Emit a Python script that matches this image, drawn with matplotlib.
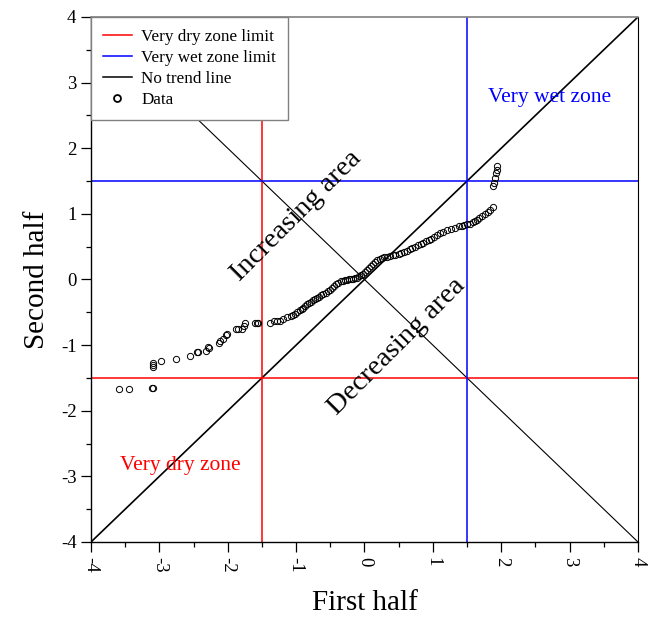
import numpy as np
import matplotlib
matplotlib.use("Agg")
import matplotlib.pyplot as plt
from matplotlib.lines import Line2D

plt.rcParams['font.family'] = ['Liberation Serif', 'DejaVu Serif']

# first half vs second half values (sorted)
first_half = [-3.59, -3.44, -3.11, -3.09, -3.09, -3.09, -3.09, -2.98, -2.76, -2.55,
              -2.45, -2.44, -2.32, -2.29, -2.27, -2.13, -2.11, -2.07, -2.02, -2.01,
              -1.88, -1.85, -1.79, -1.76, -1.75, -1.60, -1.57, -1.56, -1.38, -1.32,
              -1.28, -1.24, -1.19, -1.13, -1.08, -1.05, -1.02, -0.98, -0.95, -0.92,
              -0.90, -0.87, -0.84, -0.81, -0.78, -0.75, -0.72, -0.69, -0.66, -0.63,
              -0.60, -0.57, -0.54, -0.50, -0.47, -0.44, -0.41, -0.38, -0.35, -0.32,
              -0.29, -0.26, -0.23, -0.20, -0.17, -0.14, -0.11, -0.08, -0.05, -0.02,
              0.01, 0.04, 0.07, 0.10, 0.13, 0.16, 0.19, 0.22, 0.25, 0.29,
              0.33, 0.37, 0.41, 0.45, 0.50, 0.54, 0.58, 0.62, 0.66, 0.70,
              0.74, 0.78, 0.82, 0.86, 0.90, 0.94, 0.98, 1.02, 1.06, 1.10,
              1.15, 1.20, 1.26, 1.32, 1.38, 1.43, 1.46, 1.50, 1.54, 1.58,
              1.62, 1.65, 1.68, 1.72, 1.76, 1.80, 1.84, 1.88, 1.88, 1.90,
              1.91, 1.92, 1.94, 1.94]
second_half = [-1.67, -1.67, -1.65, -1.65, -1.33, -1.30, -1.27, -1.24, -1.21, -1.17,
               -1.10, -1.10, -1.09, -1.03, -1.04, -0.97, -0.94, -0.91, -0.84, -0.83,
               -0.75, -0.75, -0.75, -0.71, -0.66, -0.66, -0.66, -0.66, -0.66, -0.63,
               -0.63, -0.63, -0.60, -0.57, -0.55, -0.54, -0.52, -0.49, -0.47, -0.45,
               -0.43, -0.41, -0.38, -0.36, -0.34, -0.32, -0.30, -0.28, -0.26, -0.24,
               -0.22, -0.20, -0.18, -0.16, -0.13, -0.10, -0.07, -0.05, -0.03, -0.02,
               -0.01, -0.01, 0.00, 0.00, 0.01, 0.02, 0.03, 0.05, 0.07, 0.09,
               0.11, 0.14, 0.17, 0.20, 0.23, 0.26, 0.29, 0.31, 0.33, 0.34,
               0.35, 0.36, 0.37, 0.38, 0.39, 0.40, 0.42, 0.44, 0.46, 0.48,
               0.50, 0.52, 0.54, 0.56, 0.58, 0.60, 0.62, 0.65, 0.68, 0.71,
               0.73, 0.75, 0.77, 0.79, 0.81, 0.82, 0.83, 0.84, 0.85, 0.87,
               0.89, 0.91, 0.93, 0.96, 1.00, 1.03, 1.06, 1.10, 1.42, 1.47,
               1.55, 1.62, 1.67, 1.73]

dry_limit = -1.5
wet_limit = 1.5
ticks = [-4, -3, -2, -1, 0, 1, 2, 3, 4]

fig = plt.figure(figsize=(6.49, 6.18), dpi=100)
ax = fig.add_axes([0.1402, 0.1230, 0.8428, 0.8495])

ax.plot([-4, 4], [4, -4], color='black', lw=0.8, zorder=2)
ax.plot([-4, 4], [-4, 4], color='black', lw=1.2, zorder=2)
ax.axvline(dry_limit, color='red', lw=1.1, zorder=2)
ax.axhline(dry_limit, color='red', lw=1.1, zorder=2)
ax.axvline(wet_limit, color='blue', lw=1.1, zorder=2)
ax.axhline(wet_limit, color='blue', lw=1.1, zorder=2)
ax.plot(first_half, second_half, 'o', mfc='none', mec='black', ms=4.5, mew=0.7, zorder=3)

ax.text(-1.0, 0.97, 'Increasing area', rotation=45, fontsize=20.5, ha='center', va='center')
ax.text(0.47, -1.03, 'Decreasing area', rotation=45, fontsize=20.5, ha='center', va='center')
ax.text(2.71, 2.78, 'Very wet zone', color='blue', fontsize=15.5, ha='center', va='center')
ax.text(-2.70, -2.84, 'Very dry zone', color='red', fontsize=15.5, ha='center', va='center')

ax.set_xlim(-4, 4)
ax.set_ylim(-4, 4)
ax.set_xticks(ticks)
ax.set_yticks(ticks)
ax.set_xticks(np.arange(-3.5, 4, 1), minor=True)
ax.set_yticks(np.arange(-3.5, 4, 1), minor=True)
ax.set_xticklabels([str(t) for t in ticks], rotation=-90, fontsize=13.5)
ax.set_yticklabels([str(t) for t in ticks], fontsize=13.5)
ax.tick_params(which='major', direction='out', length=7, width=0.9)
ax.tick_params(which='minor', direction='out', length=3.6, width=0.9)
ax.spines['top'].set_color('gray')
ax.spines['top'].set_linewidth(1.2)
ax.spines['right'].set_linewidth(0.8)
ax.spines['left'].set_linewidth(1.0)
ax.spines['bottom'].set_linewidth(1.0)

ax.set_xlabel('First half', fontsize=21, labelpad=13)
ax.set_ylabel('Second half', fontsize=21, labelpad=8)

handles = [Line2D([], [], color='red', lw=1.1),
           Line2D([], [], color='blue', lw=1.1),
           Line2D([], [], color='black', lw=1.1),
           Line2D([], [], ls='none', marker='o', mfc='none', mec='black', ms=5, mew=1.3)]
labels = ['Very dry zone limit', 'Very wet zone limit', 'No trend line', 'Data']
leg = ax.legend(handles, labels, loc='upper left', borderaxespad=0, fontsize=12.3,
                fancybox=False, framealpha=1, edgecolor='gray', labelspacing=0.3,
                handlelength=1.7, handletextpad=0.55, borderpad=0.7)
leg.get_frame().set_linewidth(1.0)
leg.set_zorder(5)

fig.savefig('out.png', dpi=100)
